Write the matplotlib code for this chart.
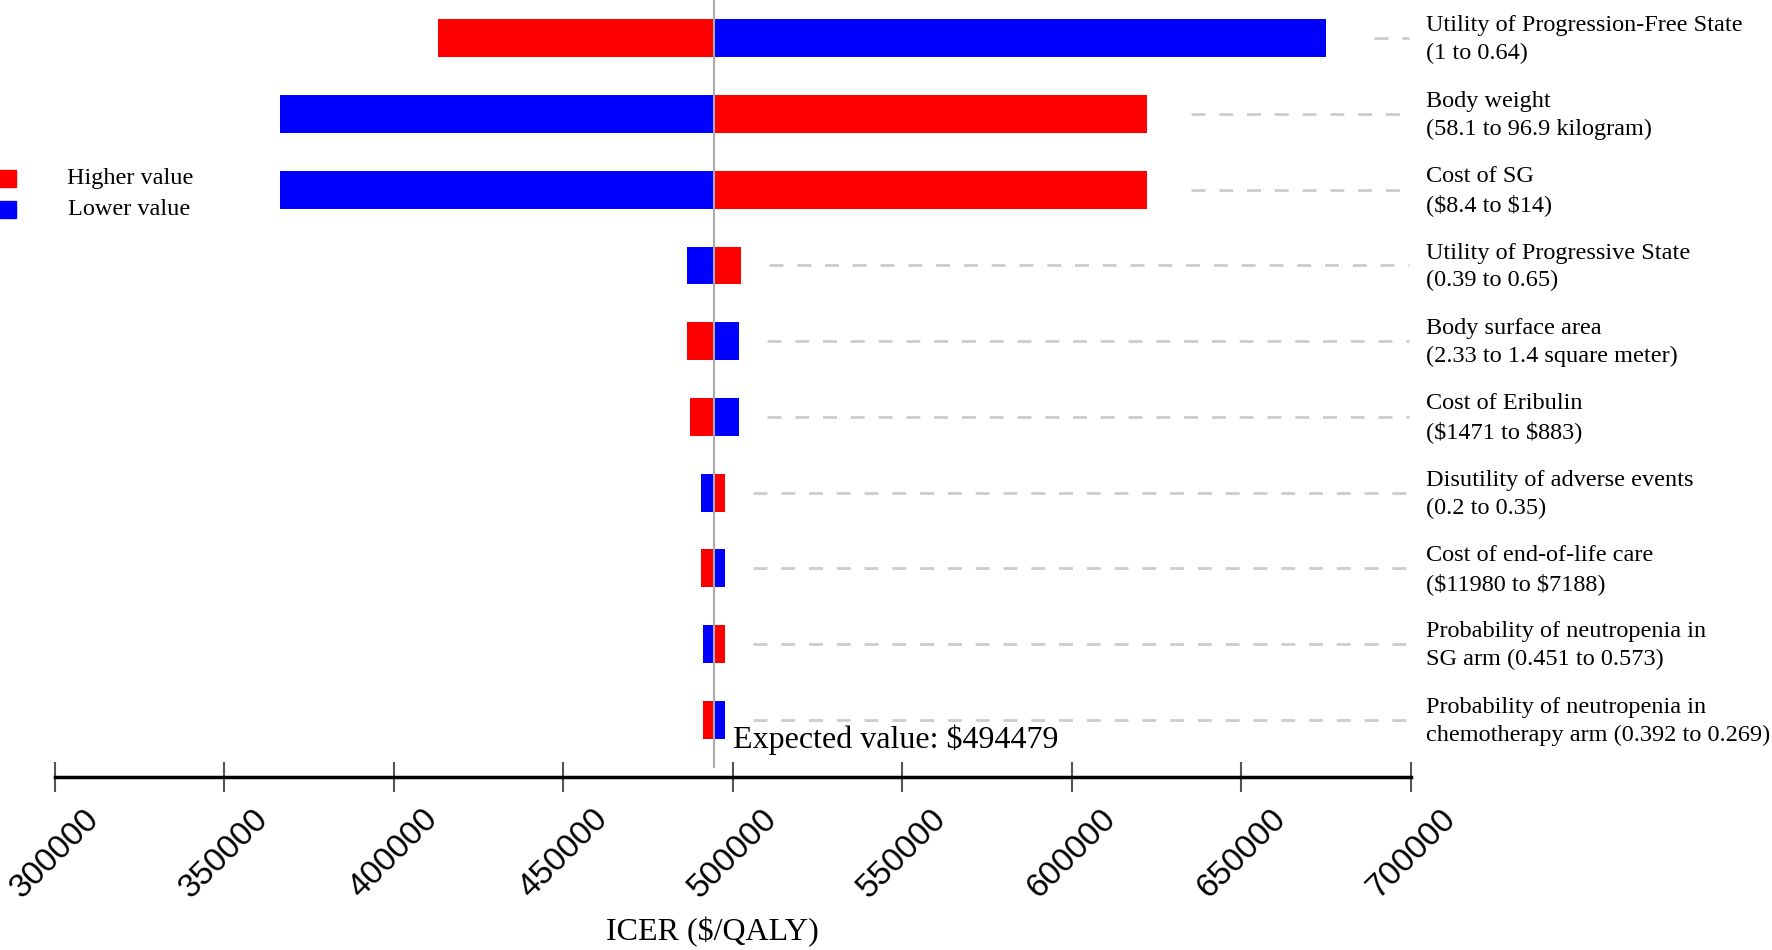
import numpy as np
import matplotlib
matplotlib.use('Agg')
import matplotlib.pyplot as plt
from matplotlib.patches import Rectangle

### Data
base_value = 494479

param_names = ['Utility of Progression-Free State\n(1 to 0.64)',
               'Body weight\n(58.1 to 96.9 kilogram)',
               'Cost of SG\n($8.4 to $14)',
               'Utility of Progressive State\n(0.39 to 0.65)',
               'Body surface area\n(2.33 to 1.4 square meter)',
               'Cost of Eribulin\n($1471 to $883)',
               'Disutility of adverse events\n(0.2 to 0.35)',
               'Cost of end-of-life care\n($11980 to $7188)',
               'Probability of neutropenia in\nSG arm (0.451 to 0.573)',
               'Probability of neutropenia in\nchemotherapy arm (0.392 to 0.269)']

# ICER when the parameter is at its higher / lower value
higher_icer = [413100, 622100, 622100, 502400, 486500, 487300, 497700, 490500, 497700, 491300]
lower_icer = [674950, 366500, 366500, 486500, 501700, 501700, 490500, 497700, 491300, 497700]

xticks = [300000, 350000, 400000, 450000, 500000, 550000, 600000, 650000, 700000]

serif = ['Liberation Serif', 'DejaVu Serif']
red = '#ff0000'
blue = '#0000ff'

fig = plt.figure(figsize=(17.72, 9.5), dpi=100)
ax = fig.add_axes([0.0308, 0.1821, 0.7655, 0.8179])

rows = np.arange(len(param_names))
bar_h = 0.5

ax.barh(rows, np.array(higher_icer) - base_value, left=base_value, height=bar_h,
        color=red, zorder=2)
ax.barh(rows, np.array(lower_icer) - base_value, left=base_value, height=bar_h,
        color=blue, zorder=2)

# dashed guide lines to the labels
for i in rows:
    end = max(higher_icer[i], lower_icer[i])
    start = end + min(8000 + 0.04 * (end - base_value), 14000)
    ax.plot([start, 699500], [i, i], color='#cccccc', lw=2,
            linestyle=(0, (5, 5)), zorder=1, clip_on=False)
    ax.text(704300, i + 0.02, param_names[i], fontsize=17.5, family=serif,
            ha='left', va='center', linespacing=1.42, clip_on=False,
            parse_math=False)

# expected value line
ax.plot([base_value, base_value], [-0.507, 9.62], color='#aaaaaa', lw=1.5, zorder=3,
        clip_on=False)
ax.text(base_value + 5500, 9.27, 'Expected value: $%d' % base_value, fontsize=23,
        family=serif, ha='left', va='center', parse_math=False)

ax.set_xlim(300000, 700000)
ax.set_ylim(9.757, -0.507)
ax.set_yticks([])
for s in ['top', 'right', 'left']:
    ax.spines[s].set_visible(False)
ax.spines['bottom'].set_linewidth(2.5)
ax.spines['bottom'].set_color('black')
ax.set_xticks(xticks)
ax.set_xticklabels([str(t) for t in xticks], rotation=45, ha='center',
                   fontsize=24, family='Liberation Sans')
ax.tick_params(axis='x', direction='inout', length=21.6, width=1.5, color='#555555',
               pad=8)

fig.text(0.4018, 0.019, 'ICER ($/QALY)', fontsize=23, family=serif,
         ha='center', va='center', parse_math=False)

# legend at the left edge
fig.add_artist(Rectangle((0, 0.8028), 0.0092, 0.0183, transform=fig.transFigure,
                         color=red))
fig.add_artist(Rectangle((0, 0.7702), 0.0092, 0.0185, transform=fig.transFigure,
                         color=blue))
fig.text(0.0376, 1 - 178.3 / 950, 'Higher value', fontsize=17.5, family=serif,
         ha='left', va='center')
fig.text(0.0385, 1 - 209.3 / 950, 'Lower value', fontsize=17.5, family=serif,
         ha='left', va='center')

fig.savefig('out.png', dpi=100)
